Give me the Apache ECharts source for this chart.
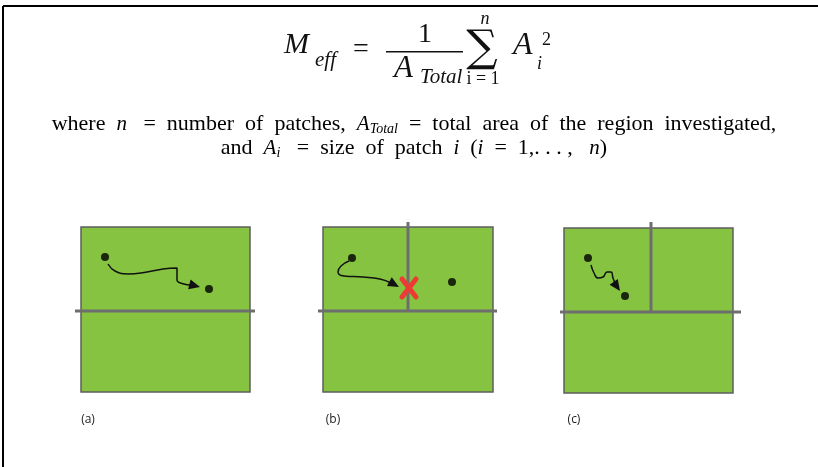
<!DOCTYPE html>
<html><head><meta charset="utf-8">
<script src="https://cdn.jsdelivr.net/npm/echarts@6/dist/echarts.min.js"></script>
<style>html,body{margin:0;padding:0;background:#fff}#c{width:818px;height:467px}</style>
</head><body><div id="c"></div>
<script>
// ---- data ----
const panelLabels = ['(a)', '(b)', '(c)'];
const labelPos = [[88, 420], [333, 420], [574, 420]];
const squares = [[81, 227, 250, 392], [323, 227, 493, 392], [564, 228, 733, 393]];
const hDividers = [[75, 311, 255, 311], [318, 311, 497, 311], [560, 312, 741, 312]];
const vDividers = [[408, 222, 408, 311], [651, 222, 651, 311]];
const dots = [[105, 257], [209, 289], [352, 258], [452, 282], [588, 258], [625, 296]];
const pathA = [[108, 264], [115, 271], [128, 274], [147, 272], [163, 269], [177, 268], [177, 274], [177, 280], [184, 284], [190, 285]];
const pathB = [[349, 261], [341, 266], [338, 272], [344, 276], [363, 277], [380, 279], [391, 283]];
const pathC = [[591, 265], [594, 273], [598, 278], [603, 277], [607, 272], [611, 272], [613, 278], [615, 283]];
const arrows = [[[188, 284], [200, 287]], [[388, 281], [399, 287]], [[613, 281], [620, 291]]];
const crosses = [[409, 288]];
const frame = [[3, 467, 3, 6], [3, 6, 818, 6]];

const chart = echarts.init(document.getElementById('c'), null, {renderer: 'canvas'});
const serif = 'Liberation Serif';

function segSeries(data, color, width, z) {
  return {
    type: 'custom', coordinateSystem: 'cartesian2d', z: z, silent: true,
    data: data,
    renderItem: function (p, api) {
      const a = api.coord([api.value(0), api.value(1)]);
      const b = api.coord([api.value(2), api.value(3)]);
      return {type: 'line', shape: {x1: a[0], y1: a[1], x2: b[0], y2: b[1]},
        style: {stroke: color, lineWidth: width, lineCap: 'butt'}};
    }
  };
}
function pathSeries(d) {
  return {type: 'line', data: d, smooth: 0.5, symbol: 'none', z: 5, silent: true,
    lineStyle: {color: '#111', width: 1.5}};
}
const richStyles = {
  t: {fontFamily: serif, fontSize: 22, lineHeight: 24, verticalAlign: 'middle', color: '#111'},
  m: {fontFamily: serif, fontStyle: 'italic', fontSize: 21, lineHeight: 24, verticalAlign: 'middle', color: '#111'},
  s: {fontFamily: serif, fontStyle: 'italic', fontSize: 14, lineHeight: 14, verticalAlign: 'bottom', color: '#111'}
};

const option = {
  animation: false,
  grid: {left: 0, right: 0, top: 0, bottom: 0},
  xAxis: {type: 'value', min: 0, max: 818, show: false},
  yAxis: {type: 'value', min: 0, max: 467, inverse: true, show: false},
  series: [
    {
      type: 'custom', coordinateSystem: 'cartesian2d', z: 1, silent: true, data: squares,
      renderItem: function (p, api) {
        const a = api.coord([api.value(0), api.value(1)]);
        const b = api.coord([api.value(2), api.value(3)]);
        return {type: 'rect', shape: {x: a[0], y: a[1], width: b[0] - a[0], height: b[1] - a[1]},
          style: {fill: '#86c341', stroke: '#5e5e5e', lineWidth: 1.5}};
      }
    },
    segSeries(hDividers, '#6e6e6e', 3, 2),
    segSeries(vDividers, '#6e6e6e', 3, 2),
    segSeries(frame, '#000', 2, 2),
    pathSeries(pathA), pathSeries(pathB), pathSeries(pathC),
    {
      type: 'custom', coordinateSystem: 'cartesian2d', z: 6, silent: true,
      data: arrows.map(a => [a[0][0], a[0][1], a[1][0], a[1][1]]),
      renderItem: function (p, api) {
        const a = api.coord([api.value(0), api.value(1)]);
        const b = api.coord([api.value(2), api.value(3)]);
        const dx = b[0] - a[0], dy = b[1] - a[1], L = Math.sqrt(dx * dx + dy * dy);
        const ux = dx / L, uy = dy / L, len = 11, hw = 5;
        const bx = b[0] - ux * len, by = b[1] - uy * len;
        return {type: 'polygon', shape: {points: [[b[0], b[1]], [bx - uy * hw, by + ux * hw], [bx + uy * hw, by - ux * hw]]},
          style: {fill: '#111'}};
      }
    },
    {
      type: 'scatter', data: dots, symbol: 'circle', symbolSize: 8, z: 7, silent: true,
      itemStyle: {color: '#000'}
    },
    {
      type: 'custom', coordinateSystem: 'cartesian2d', z: 8, silent: true, data: crosses,
      renderItem: function (p, api) {
        const c = api.coord([api.value(0), api.value(1)]);
        const s = 7, h = 9;
        return {type: 'group', children: [
          {type: 'line', shape: {x1: c[0] - s, y1: c[1] - h, x2: c[0] + s, y2: c[1] + h}, style: {stroke: '#ec3b35', lineWidth: 5, lineCap: 'round'}},
          {type: 'line', shape: {x1: c[0] + s, y1: c[1] - h, x2: c[0] - s, y2: c[1] + h}, style: {stroke: '#ec3b35', lineWidth: 5, lineCap: 'round'}}
        ]};
      }
    }
  ],
  graphic: [
    // formula
    {type: 'text', x: 284, y: 60, style: {text: 'M', font: 'italic 30px "Liberation Serif"', fill: '#111', verticalAlign: 'bottom'}},
    {type: 'text', x: 315, y: 71, style: {text: 'eff', font: 'italic 21px "Liberation Serif"', fill: '#111', verticalAlign: 'bottom'}},
    {type: 'text', x: 361, y: 50, style: {text: '=', font: '28px "Liberation Serif"', fill: '#111', align: 'center', verticalAlign: 'middle'}},
    {type: 'text', x: 425, y: 49, style: {text: '1', font: '28px "Liberation Serif"', fill: '#111', align: 'center', verticalAlign: 'bottom'}},
    {type: 'rect', shape: {x: 386, y: 51, width: 77, height: 1.6}, style: {fill: '#111'}},
    {type: 'text', x: 394, y: 84, style: {text: 'A', font: 'italic 31px "Liberation Serif"', fill: '#111', verticalAlign: 'bottom'}},
    {type: 'text', x: 420, y: 88, style: {text: 'Total', font: 'italic 21px "Liberation Serif"', fill: '#111', verticalAlign: 'bottom'}},
    {type: 'text', x: 482, y: 50, style: {text: '\u2211', font: '44px "DejaVu Serif"', fill: '#111', align: 'center', verticalAlign: 'middle'}},
    {type: 'text', x: 485, y: 19, style: {text: 'n', font: 'italic 18px "Liberation Serif"', fill: '#111', align: 'center', verticalAlign: 'middle'}},
    {type: 'text', x: 483, y: 79, style: {text: 'i = 1', font: '18px "Liberation Serif"', fill: '#111', align: 'center', verticalAlign: 'middle'}},
    {type: 'text', x: 513, y: 62, style: {text: 'A', font: 'italic 32px "Liberation Serif"', fill: '#111', verticalAlign: 'bottom'}},
    {type: 'text', x: 537, y: 73, style: {text: 'i', font: 'italic 18px "Liberation Serif"', fill: '#111', verticalAlign: 'bottom'}},
    {type: 'text', x: 542, y: 49, style: {text: '2', font: '18px "Liberation Serif"', fill: '#111', verticalAlign: 'bottom'}},
    // explanatory lines
    {type: 'text', x: 414, y: 124, style: {
      text: '{t|where  }{m|n}{t|   =  number  of  patches,  }{m|A}{s|Total}{t|  =  total  area  of  the  region  investigated,}',
      align: 'center', verticalAlign: 'middle', rich: richStyles}},
    {type: 'text', x: 414, y: 148, style: {
      text: '{t|and  }{m|A}{s|i}{t|   =  size  of  patch  }{m|i}{t|  (}{m|i}{t|  =  1,. . . ,   }{m|n}{t|)}',
      align: 'center', verticalAlign: 'middle', rich: richStyles}}
  ].concat(panelLabels.map((t, i) => ({
    type: 'text', x: labelPos[i][0], y: labelPos[i][1],
    style: {text: t, font: '12px "Open Sans"', fill: '#222', align: 'center', verticalAlign: 'middle'}
  })))
};
chart.setOption(option);
</script>
</body></html>
